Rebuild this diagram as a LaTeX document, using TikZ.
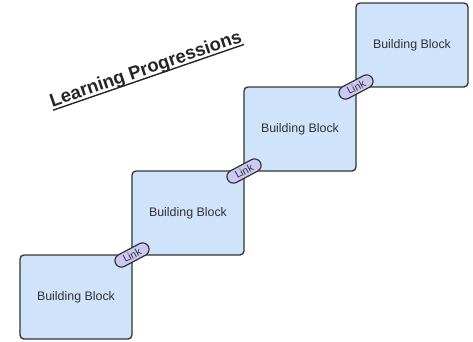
\documentclass[tikz,border=0pt]{standalone}
\usepackage{fontspec}
\setmainfont{Liberation Sans}
\usetikzlibrary{positioning,calc}
\definecolor{blockblue}{RGB}{207,227,250}
\definecolor{linkviolet}{RGB}{204,200,244}
\definecolor{edgegray}{RGB}{51,51,51}

\begin{document}
\begin{tikzpicture} [x=1pt,y=1pt,
block/.style={draw=edgegray,fill=blockblue,line width=1.3pt,rounded corners=4pt,minimum width=112pt,minimum height=84pt,inner sep=0pt,outer sep=0pt,text=edgegray,font=\fontsize{12.4}{14}\selectfont},
link/.style={draw=edgegray,fill=linkviolet,line width=1.2pt,rounded corners=6.5pt,minimum width=37pt,minimum height=13pt,inner sep=0pt,rotate=28,text=edgegray,font=\fontsize{10.5}{11}\selectfont}]
\useasboundingbox (0,0) rectangle (473,-341);
\node [block,anchor=south west] (b1) at (20,-339) {Building Block};
\node [block,anchor=south west] (b2) at (b1.north east) {Building Block};
\node [block,anchor=south west] (b3) at (b2.north east) {Building Block};
\node [block,anchor=south west] (b4) at (b3.north east) {Building Block};
\node [link] (l1) at (b1.north east) {Link};
\node [link] (l2) at (b2.north east) {Link};
\node [link] (l3) at (b3.north east) {Link};
\node [rotate=19,inner sep=0pt,text=black!85,font=\bfseries\fontsize{18.5}{21}\selectfont] (title) at (146,-70) {Learning Progressions};
\draw [line width=1.4pt,black!85] ($(title.base west)!3pt!-90:(title.base east)$) -- ($(title.base east)!3pt!90:(title.base west)$);
\end{tikzpicture}
\end{document}
